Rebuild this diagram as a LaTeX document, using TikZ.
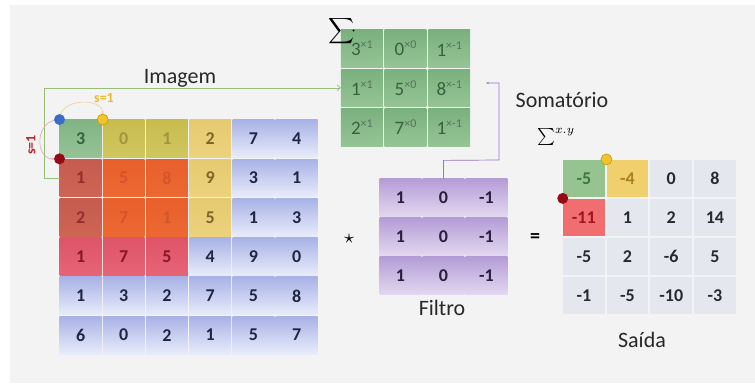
\documentclass[tikz,border=0pt]{standalone}
\usepackage{fontspec}
\setmainfont{Carlito}
\usetikzlibrary{arrows.meta,calc}

% palette
\definecolor{panel}{RGB}{243,243,243}
\definecolor{blueT}{RGB}{168,178,230}
\definecolor{blueB}{RGB}{232,236,250}
\definecolor{navyTxt}{RGB}{30,38,66}
\definecolor{grnT}{RGB}{128,180,132}
\definecolor{grnB}{RGB}{150,195,150}
\definecolor{grnTxt}{RGB}{50,100,65}
\definecolor{oliveT}{RGB}{200,188,78}
\definecolor{oliveB}{RGB}{208,198,95}
\definecolor{oliveTxt}{RGB}{160,148,60}
\definecolor{ylwT}{RGB}{230,202,112}
\definecolor{ylwB}{RGB}{236,210,125}
\definecolor{ylwTxt}{RGB}{125,102,40}
\definecolor{brnT}{RGB}{198,92,78}
\definecolor{brnB}{RGB}{205,100,84}
\definecolor{brnTxt}{RGB}{150,45,45}
\definecolor{orgT}{RGB}{232,96,44}
\definecolor{orgB}{RGB}{236,104,50}
\definecolor{orgTxt}{RGB}{212,84,44}
\definecolor{pnkT}{RGB}{222,84,104}
\definecolor{pnkB}{RGB}{230,100,118}
\definecolor{pnkTxt}{RGB}{135,20,40}
\definecolor{purT}{RGB}{180,156,214}
\definecolor{purB}{RGB}{226,216,240}
\definecolor{purTxt}{RGB}{40,30,60}
\definecolor{kerT}{RGB}{122,176,126}
\definecolor{kerB}{RGB}{150,196,150}
\definecolor{kerTxt}{RGB}{52,98,62}
\definecolor{kerSup}{RGB}{88,112,92}
\definecolor{outGrey}{RGB}{229,231,238}
\definecolor{outTxt}{RGB}{40,40,52}
\definecolor{outGrn}{RGB}{150,196,145}
\definecolor{outGrnTxt}{RGB}{60,118,60}
\definecolor{outYlw}{RGB}{240,208,108}
\definecolor{outYlwTxt}{RGB}{168,128,30}
\definecolor{outRed}{RGB}{240,110,112}
\definecolor{outRedTxt}{RGB}{160,20,32}
\definecolor{dotBlue}{RGB}{58,108,200}
\definecolor{dotYlw}{RGB}{242,196,44}
\definecolor{dotYlwLine}{RGB}{196,150,20}
\definecolor{dotRed}{RGB}{150,10,22}
\definecolor{strideY}{RGB}{232,186,44}
\definecolor{strideR}{RGB}{190,32,44}
\definecolor{arcY}{RGB}{236,208,150}
\definecolor{arcR}{RGB}{220,168,160}
\definecolor{linkG}{RGB}{150,190,120}
\definecolor{linkP}{RGB}{150,118,192}
\definecolor{lbl}{RGB}{40,40,40}

\tikzset{
  cell/.style={minimum width=41.8pt, minimum height=37.8pt, inner sep=0pt,
    font=\fontsize{18}{18}\selectfont\bfseries},
  cB/.style={cell, top color=blueT, bottom color=blueB, text=navyTxt},
  cG/.style={cell, top color=grnT, bottom color=grnB, text=grnTxt},
  cO/.style={cell, top color=oliveT, bottom color=oliveB, text=oliveTxt},
  cY/.style={cell, top color=ylwT, bottom color=ylwB, text=ylwTxt},
  cR/.style={cell, top color=brnT, bottom color=brnB, text=brnTxt},
  cN/.style={cell, top color=orgT, bottom color=orgB, text=orgTxt},
  cP/.style={cell, top color=pnkT, bottom color=pnkB, text=pnkTxt},
  kcell/.style={cell, top color=kerT, bottom color=kerB, text=kerTxt,
    font=\fontsize{19}{19}\selectfont},
  fcell/.style={cell, top color=purT, bottom color=purB, text=purTxt},
  oW/.style={cell, fill=outGrey, text=outTxt},
  oG/.style={cell, fill=outGrn, text=outGrnTxt},
  oY/.style={cell, fill=outYlw, text=outYlwTxt},
  oR/.style={cell, fill=outRed, text=outRedTxt},
  caption/.style={font=\fontsize{22}{22}\selectfont, text=lbl, inner sep=1pt},
  marker/.style={radius=5.5pt},
  stridetxt/.style={font=\fontsize{14}{14}\selectfont\bfseries, inner sep=0pt},
}

\newcommand{\kentry}[2]{#1\raisebox{7pt}{\fontsize{12}{12}\selectfont\color{kerSup}×#2}}

\begin{document}
\begin{tikzpicture}[x=1pt,y=-1pt]
\useasboundingbox (0,0) rectangle (755,383);
\fill[white] (0,0) rectangle (755,383);
\fill[panel] (10,5) rectangle (755,383);

% input image 6x6
\foreach \r/\c/\v/\s in {
  0/0/3/cG, 0/1/0/cO, 0/2/1/cO, 0/3/2/cY, 0/4/7/cB, 0/5/4/cB,
  1/0/1/cR, 1/1/5/cN, 1/2/8/cN, 1/3/9/cY, 1/4/3/cB, 1/5/1/cB,
  2/0/2/cR, 2/1/7/cN, 2/2/1/cN, 2/3/5/cY, 2/4/1/cB, 2/5/3/cB,
  3/0/1/cP, 3/1/7/cP, 3/2/5/cP, 3/3/4/cB, 3/4/9/cB, 3/5/0/cB,
  4/0/1/cB, 4/1/3/cB, 4/2/2/cB, 4/3/7/cB, 4/4/5/cB, 4/5/8/cB,
  5/0/6/cB, 5/1/0/cB, 5/2/2/cB, 5/3/1/cB, 5/4/5/cB, 5/5/7/cB}
  \node[\s] (im-\r-\c) at ({59+43.2*(\c+0.5)},{119+39.3*(\r+0.5)}) {\v};

% weighted window
\foreach \r/\c/\v/\e in {
  0/0/3/1, 0/1/0/0, 0/2/1/-1,
  1/0/1/1, 1/1/5/0, 1/2/8/-1,
  2/0/2/1, 2/1/7/0, 2/2/1/-1}
  \node[kcell] (g-\r-\c) at ({340+43.7*(\c+0.5)},{29+39.3*(\r+0.5)}) {\kentry{\v}{\e}};

% filter
\foreach \r in {0,1,2}
  \foreach \c/\v in {0/1, 1/0, 2/-1}
    \node[fcell] (f-\r-\c) at ({379+43*(\c+0.5)},{178+39*(\r+0.5)}) {\v};

% output 4x4
\foreach \r/\c/\v/\s in {
  0/0/-5/oG, 0/1/-4/oY, 0/2/0/oW, 0/3/8/oW,
  1/0/-11/oR, 1/1/1/oW, 1/2/2/oW, 1/3/14/oW,
  2/0/-5/oW, 2/1/2/oW, 2/2/-6/oW, 2/3/5/oW,
  3/0/-1/oW, 3/1/-5/oW, 3/2/-10/oW, 3/3/-3/oW}
  \node[\s] (o-\r-\c) at ({562+43.7*(\c+0.5)},{159+39*(\r+0.5)}) {\v};

% labels
\node[caption] (lbl-img) at (180,78) {Imagem};
\node[caption] (lbl-fil) at (442,308) {Filtro};
\node[caption] (lbl-out) at (642,340) {Saída};
\node[caption, inner sep=0pt] (lbl-sum) at (562,100) {Somatório};
\node[scale=1.7, inner sep=0pt] (lbl-sumxy) at (556,137) {$\sum\nolimits^{x.y}$};
\node[scale=1.8, inner sep=0pt] (sigma) at (342,31) {$\displaystyle\sum\!\!\cdot$};
\node[scale=2, inner sep=0pt] (op-star) at (349,239) {$\star$};
\node (op-eq) at (535,238) {\fontsize{20}{20}\selectfont\bfseries =};

% connectors
\coordinate (gbend) at ($(im-1-0.west)+(-15,0)$);
\draw[linkG, line width=0.7pt, -{Straight Barb[length=3pt]}]
  (im-1-0.west) -- (gbend) |- (g-1-0.west);
\coordinate (pa) at ($(f-0-1.north)+(0,-18)$);
\coordinate (pb) at (499,160);
\coordinate (pc) at (499,83);
\coordinate (ptip) at (486,83);
\draw[linkP, line width=0.7pt, -{Stealth[length=3pt]}]
  (f-0-1.north) -- (pa) -- (pb) -- (pc) -- (ptip);

% stride markers
\coordinate (dB) at (im-0-0.north west);
\coordinate (dY) at (im-0-1.north west);
\coordinate (dR) at (im-1-0.north west);
\draw[arcY, line width=0.6pt, -{Stealth[length=3pt]}, shorten >=5pt]
  (dB) .. controls ($(dB)+(0,-22)$) and ($(dY)+(0,-22)$) .. (dY);
\draw[arcR, line width=0.6pt, -{Stealth[length=3pt]}, shorten >=5pt]
  (dB) .. controls ($(dB)+(-25,0)$) and ($(dR)+(-25,0)$) .. (dR);
\fill[dotBlue] (dB) circle[marker];
\filldraw[fill=dotYlw, draw=dotYlwLine, line width=0.6pt] (dY) circle[marker];
\fill[dotRed] (dR) circle[marker];
\node[stridetxt, text=strideY] (s-h) at (104,98) {s=1};
\node[stridetxt, text=strideR, rotate=90] (s-v) at (31,145) {s=1};

\coordinate (oY) at (o-0-1.north west);
\coordinate (oR) at (o-1-0.north west);
\filldraw[fill=dotYlw, draw=dotYlwLine, line width=0.6pt] (oY) circle[marker];
\fill[dotRed] (oR) circle[marker];
\end{tikzpicture}
\end{document}
